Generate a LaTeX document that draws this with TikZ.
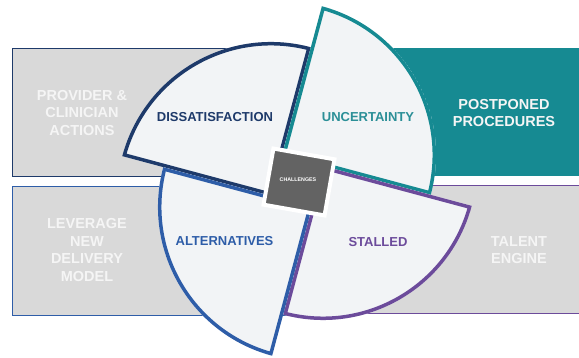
\documentclass[tikz,border=0pt]{standalone}
\usepackage{fontspec}
\setmainfont{Liberation Sans}
\definecolor{navy}{HTML}{1E3A6A}
\definecolor{tealc}{HTML}{168A92}
\definecolor{tealtext}{HTML}{2B8F97}
\definecolor{bluec}{HTML}{2E5DA8}
\definecolor{purp}{HTML}{6C4B9B}
\definecolor{boxgray}{HTML}{D9D9D9}
\definecolor{petalfill}{HTML}{F2F4F6}
\definecolor{sqgray}{HTML}{636363}
\definecolor{softwhite}{HTML}{F5F5F5}
\tikzset{
  outerlabel/.style={text=softwhite, font=\bfseries\fontsize{14.5}{17.5}\selectfont, align=center},
  innerlabel/.style={font=\bfseries\fontsize{13}{15}\selectfont},
}
\newcommand{\petal}[3]{%
  \begin{scope}
    \clip (#1) -- ++(#2:154) arc[start angle=#2, end angle=#2-90, radius=154] -- cycle;
    \fill[petalfill] (#1) -- ++(#2:154) arc[start angle=#2, end angle=#2-90, radius=154] -- cycle;
    \draw[#3, line width=7pt, line join=miter] (#1) -- ++(#2:154) arc[start angle=#2, end angle=#2-90, radius=154] -- cycle;
  \end{scope}}
\begin{document}
\begin{tikzpicture}[x=1pt,y=1pt]
\useasboundingbox (0,0) rectangle (579,358);
% background boxes
\draw[navy, line width=1pt, fill=boxgray] (12,181) rectangle (300,309);
\fill[tealc] (300,182) rectangle (580,310);
\draw[bluec, line width=1pt, fill=boxgray] (12,42) rectangle (300,171);
\draw[purp, line width=1pt, fill=boxgray] (300,44) rectangle (582,172);
% apexes
\coordinate (aD) at (271,162);
\coordinate (aU) at (282,203);
\coordinate (aS) at (323,192);
\coordinate (aA) at (312,151);
\petal{aD}{165}{navy}
\petal{aU}{75}{tealc}
\petal{aS}{-15}{purp}
\petal{aA}{-105}{bluec}
% centre square
\node[draw=white, line width=4pt, fill=sqgray, minimum width=62pt, minimum height=57pt, rotate=-10, inner sep=0pt] (ch) at (299,176) {};
\node[text=white, font=\bfseries\fontsize{5.3}{6}\selectfont] (cht) at (298,178.7) {CHALLENGES};
% labels
\node[outerlabel] (pca) at (82,245) {PROVIDER \&\\CLINICIAN\\ACTIONS};
\node[outerlabel] (pp) at (504,245) {POSTPONED\\PROCEDURES};
\node[outerlabel] (lev) at (87,108) {LEVERAGE\\NEW\\DELIVERY\\MODEL};
\node[outerlabel] (te) at (519,108) {TALENT\\ENGINE};
\node[innerlabel, text=navy] (dis) at (215,241) {DISSATISFACTION};
\node[innerlabel, text=tealtext] (unc) at (368,241) {UNCERTAINTY};
\node[innerlabel, text=bluec] (alt) at (224.5,117) {ALTERNATIVES};
\node[innerlabel, text=purp] (sta) at (378,116) {STALLED};
\end{tikzpicture}
\end{document}
